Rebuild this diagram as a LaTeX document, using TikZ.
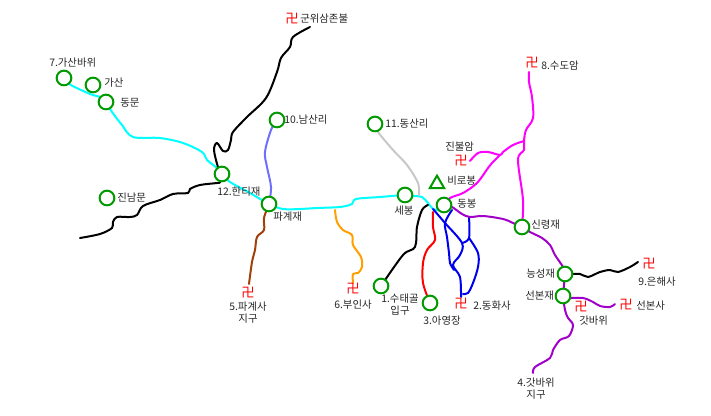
\documentclass[tikz,border=0pt]{standalone}
\usepackage{fontspec}
\setmainfont{Noto Sans CJK KR}
\usetikzlibrary{shapes.geometric,backgrounds}
\definecolor{stopgreen}{RGB}{0,153,0}
\definecolor{pathcyan}{RGB}{0,255,255}
\definecolor{pathmag}{RGB}{255,0,255}
\definecolor{pathpur}{RGB}{160,0,200}
\definecolor{pathblue}{RGB}{0,0,240}
\definecolor{pathperi}{RGB}{110,110,255}
\definecolor{pathbrown}{RGB}{160,64,10}
\definecolor{pathorange}{RGB}{255,160,0}
\definecolor{pathgray}{RGB}{200,200,200}
\tikzset{
 stopnode/.style={circle,draw=stopgreen,fill=white,line width=1.5pt,minimum size=11pt,inner sep=0pt},
 peaknode/.style={regular polygon,regular polygon sides=3,draw=stopgreen,line width=1.5pt,minimum size=12.5pt,inner sep=0pt},
 templenode/.style={text=red,font=\fontsize{10}{10}\selectfont,inner sep=0pt},
 lbl/.style={font=\fontsize{7.8}{9}\selectfont,inner sep=0pt,align=center,text=black!85},
 route/.style={line width=1.5pt,line cap=round,line join=round},
 wig/.style={smooth,tension=.55},
}
\begin{document}
\begin{tikzpicture}[x=0.75pt,y=-0.75pt]
\useasboundingbox (0,0) rectangle (711,416);
% stops
\node[stopnode] (g7) at (64,78) {};
\node[stopnode] (gasan) at (93,85) {};
\node[stopnode] (dongmun) at (106,102) {};
\node[stopnode] (hanti) at (222,174) {};
\node[stopnode] (pagye) at (269,204) {};
\node[stopnode] (jinnam) at (107,198) {};
\node[stopnode] (namsan) at (277,120) {};
\node[stopnode] (dongsan) at (375,124) {};
\node[stopnode] (sebong) at (405,195) {};
\node[stopnode] (dongbong) at (444,205) {};
\node[stopnode] (sinryeong) at (522,227) {};
\node[stopnode] (neung) at (565,274) {};
\node[stopnode] (seonbon) at (563,296) {};
\node[stopnode] (sutae) at (381,286) {};
\node[stopnode] (ayeong) at (430,303) {};
\node[peaknode] (biro) at (437,184) {};
% temples
\node[templenode] (t0) at (292,19) {卍};
\node[templenode] (t5) at (248,293) {卍};
\node[templenode] (t6) at (353,289) {卍};
\node[templenode] (t2) at (461,304) {卍};
\node[templenode] (tj) at (461,161) {卍};
\node[templenode] (t8) at (532,63) {卍};
\node[templenode] (t9) at (649,264) {卍};
\node[templenode] (ts) at (626,305) {卍};
\node[templenode] (tg) at (581,307) {卍};
% labels
\node[lbl,anchor=west] at (300,19) {군위삼존불};
\node[lbl,anchor=west] at (49,63) {7.가산바위};
\node[lbl,anchor=west] at (104,83) {가산};
\node[lbl,anchor=west] at (120,103) {동문};
\node[lbl,anchor=west] at (217,192) {12.한티재};
\node[lbl,anchor=west] at (117,198) {진남문};
\node[lbl,anchor=west] at (273,217) {파계재};
\node[lbl,anchor=west] at (284,120) {10.남산리};
\node[lbl,anchor=west] at (385,124) {11.동산리};
\node[lbl,anchor=west] at (445,147) {진불암};
\node[lbl,anchor=west] at (447,181) {비로봉};
\node[lbl,anchor=west] at (457,204) {동봉};
\node[lbl,anchor=west] at (394,211) {세봉};
\node[lbl,anchor=west] at (531,225) {신령재};
\node[lbl,anchor=west] at (526,274) {능성재};
\node[lbl,anchor=west] at (525,296) {선본재};
\node[lbl,anchor=west] at (579,321) {갓바위};
\node[lbl,anchor=west] at (636,306) {선본사};
\node[lbl,anchor=west] at (638,282) {9.은해사};
\node[lbl] at (536,389) {4.갓바위\\지구};
\node[lbl,anchor=west] at (473,306) {2.동화사};
\node[lbl,anchor=west] at (423,321) {3.아영장};
\node[lbl] at (400,305) {1.수태골\\입구};
\node[lbl] at (248,313) {5.파계사\\지구};
\node[lbl,anchor=west] at (334,305) {6.부인사};
\node[lbl,anchor=west] at (541,66) {8.수도암};
% free ends
\coordinate (endw) at (80,238);
\coordinate (jct) at (433,209);
\coordinate (jm) at (500,155);
\coordinate (jm2) at (524,141);
\coordinate (jb) at (462,243);
\coordinate (jc) at (469,217);
\coordinate (jo) at (335,210);
\coordinate (jg) at (573,325);
\coordinate (endg) at (533,373);
\begin{scope}[on background layer,every path/.append style={route}]
\draw[pathcyan] plot[wig] coordinates {(g7.center) (69,84) (90,94) (100,97) (dongmun.center) (112,112) (122,125) (133,137) (160,138) (183,143) (202,152) (207,160) (217,168) (hanti.center) (230,182) (250,193) (pagye.center) (283,209) (300,209) (317,208) (340,207) (352,204) (356,199) (380,197) (sebong.center) (413,196) (422,197) (428,203) (jct) (437,210)};
\draw[black] plot[wig] coordinates {(310,27) (293,37) (290,47) (281,58) (277,72) (266,98) (247,117) (233,132) (231,140) (228,150) (223,151) (217,143) (214,150) (218,167) (hanti.center)};
\draw[black] plot[wig] coordinates {(hanti.center) (220,182) (217,183) (200,185) (190,189) (188,193) (173,194) (160,200) (143,206) (137,215) (130,217) (117,217) (113,222) (112,228) (100,234) (endw)};
\draw[pathperi] plot[wig] coordinates {(namsan.center) (271,130) (265,152) (267,167) (271,187) (pagye.center)};
\draw[pathbrown] plot[wig] coordinates {(pagye.center) (264,218) (264,230) (257,237) (255,250) (252,262) (249,284)};
\draw[pathorange] plot[wig] coordinates {(jo) (337,222) (343,230) (352,235) (353,245) (361,257) (362,267) (358,273) (353,274) (353,283)};
\draw[black] plot[wig] coordinates {(428,205) (422,210) (417,227) (415,247) (403,255) (sutae.center)};
\draw[red] plot[wig] coordinates {(433,212) (433,227) (435,240) (427,250) (423,263) (423,283) (ayeong.center)};
\draw[pathblue] plot[wig] coordinates {(jct) (445,223) (jb) (460,255) (453,265) (460,277) (461,297)};
\draw[pathblue] plot[wig] coordinates {(452,210) (445,223) (447,237) (449,253) (450,263) (454,270)};
\draw[pathblue] plot[wig] coordinates {(jc) (469,238) (jb)};
\draw[pathblue] plot[wig] coordinates {(469,238) (478,253) (478,267) (473,283) (468,293) (463,294)};
\draw[pathpur] plot[wig] coordinates {(dongbong.center) (452,207) (462,214) (470,217) (483,216) (503,219) (513,223) (sinryeong.center) (530,232) (542,238) (550,245) (555,255) (563,267) (neung.center)};
\draw[pathpur] (neung.center) -- (seonbon.center);
\draw[pathpur] plot[wig] coordinates {(seonbon.center) (565,310) (568,318) (jg) (569,336) (560,340) (553,350) (550,358) (535,367) (endg)};
\draw[pathpur] plot[wig] coordinates {(seonbon.center) (568,298) (583,298) (593,302) (600,306) (610,307) (615,304)};
\draw[black] plot[wig] coordinates {(neung.center) (580,274) (588,277) (600,272) (610,270) (618,272) (630,267) (638,262)};
\draw[pathgray] plot[wig] coordinates {(dongsan.center) (378,132) (393,150) (407,165) (418,183) (419,195)};
\draw[pathmag] plot[wig] coordinates {(529,72) (529,82) (532,97) (533,118) (526,130) (jm2) (524,150) (518,160) (523,200) (sinryeong.center)};
\draw[pathmag] plot[wig] coordinates {(470,161) (478,153) (488,152) (jm) (503,152) (513,145) (jm2)};
\draw[pathmag] plot[wig] coordinates {(dongbong.center) (450,198) (463,193) (477,183) (488,168) (492,163) (jm)};
\end{scope}
\end{tikzpicture}
\end{document}
